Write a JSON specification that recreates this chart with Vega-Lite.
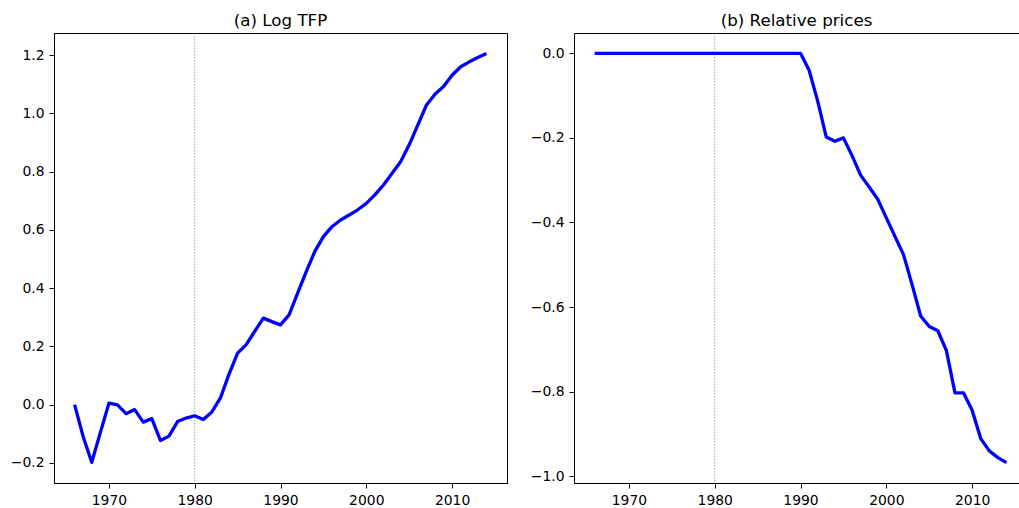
{
  "$schema": "https://vega.github.io/schema/vega-lite/v6.json",
  "background": "white",
  "padding": {"left": 9, "top": 12, "right": 0, "bottom": 0},
  "autosize": {"type": "pad"},
  "bounds": "flush",
  "spacing": 67,
  "config": {
    "font": "DejaVu Sans",
    "view": {"stroke": "black", "strokeWidth": 1},
    "axis": {
      "labelFont": "DejaVu Sans",
      "labelFontSize": 13.9,
      "labelColor": "black",
      "tickColor": "black",
      "tickSize": 5,
      "tickWidth": 1,
      "domainColor": "black",
      "domainWidth": 1,
      "grid": false,
      "labelPadding": 5,
      "title": null
    },
    "title": {
      "font": "DejaVu Sans",
      "fontSize": 16.7,
      "fontWeight": "normal",
      "color": "black",
      "anchor": "middle",
      "baseline": "alphabetic",
      "offset": 3
    }
  },
  "datasets": {
    "series": [
      {"year": 1966, "log_tfp": 0.0, "rel_price": 0.0},
      {"year": 1967, "log_tfp": -0.11, "rel_price": 0.0},
      {"year": 1968, "log_tfp": -0.198, "rel_price": 0.0},
      {"year": 1969, "log_tfp": -0.096, "rel_price": 0.0},
      {"year": 1970, "log_tfp": 0.005, "rel_price": 0.0},
      {"year": 1971, "log_tfp": -0.001, "rel_price": 0.0},
      {"year": 1972, "log_tfp": -0.031, "rel_price": 0.0},
      {"year": 1973, "log_tfp": -0.017, "rel_price": 0.0},
      {"year": 1974, "log_tfp": -0.06, "rel_price": 0.0},
      {"year": 1975, "log_tfp": -0.048, "rel_price": 0.0},
      {"year": 1976, "log_tfp": -0.123, "rel_price": 0.0},
      {"year": 1977, "log_tfp": -0.108, "rel_price": 0.0},
      {"year": 1978, "log_tfp": -0.058, "rel_price": 0.0},
      {"year": 1979, "log_tfp": -0.046, "rel_price": 0.0},
      {"year": 1980, "log_tfp": -0.038, "rel_price": 0.0},
      {"year": 1981, "log_tfp": -0.051, "rel_price": 0.0},
      {"year": 1982, "log_tfp": -0.025, "rel_price": 0.0},
      {"year": 1983, "log_tfp": 0.023, "rel_price": 0.0},
      {"year": 1984, "log_tfp": 0.105, "rel_price": 0.0},
      {"year": 1985, "log_tfp": 0.177, "rel_price": 0.0},
      {"year": 1986, "log_tfp": 0.206, "rel_price": 0.0},
      {"year": 1987, "log_tfp": 0.252, "rel_price": 0.0},
      {"year": 1988, "log_tfp": 0.297, "rel_price": 0.0},
      {"year": 1989, "log_tfp": 0.285, "rel_price": 0.0},
      {"year": 1990, "log_tfp": 0.274, "rel_price": 0.0},
      {"year": 1991, "log_tfp": 0.308, "rel_price": -0.04},
      {"year": 1992, "log_tfp": 0.383, "rel_price": -0.113},
      {"year": 1993, "log_tfp": 0.457, "rel_price": -0.198},
      {"year": 1994, "log_tfp": 0.526, "rel_price": -0.208},
      {"year": 1995, "log_tfp": 0.577, "rel_price": -0.2},
      {"year": 1996, "log_tfp": 0.611, "rel_price": -0.242},
      {"year": 1997, "log_tfp": 0.634, "rel_price": -0.288},
      {"year": 1998, "log_tfp": 0.651, "rel_price": -0.316},
      {"year": 1999, "log_tfp": 0.669, "rel_price": -0.345},
      {"year": 2000, "log_tfp": 0.691, "rel_price": -0.389},
      {"year": 2001, "log_tfp": 0.72, "rel_price": -0.433},
      {"year": 2002, "log_tfp": 0.754, "rel_price": -0.476},
      {"year": 2003, "log_tfp": 0.794, "rel_price": -0.547},
      {"year": 2004, "log_tfp": 0.834, "rel_price": -0.621},
      {"year": 2005, "log_tfp": 0.892, "rel_price": -0.646},
      {"year": 2006, "log_tfp": 0.96, "rel_price": -0.656},
      {"year": 2007, "log_tfp": 1.028, "rel_price": -0.703},
      {"year": 2008, "log_tfp": 1.066, "rel_price": -0.803},
      {"year": 2009, "log_tfp": 1.092, "rel_price": -0.803},
      {"year": 2010, "log_tfp": 1.131, "rel_price": -0.844},
      {"year": 2011, "log_tfp": 1.16, "rel_price": -0.911},
      {"year": 2012, "log_tfp": 1.177, "rel_price": -0.94},
      {"year": 2013, "log_tfp": 1.192, "rel_price": -0.956},
      {"year": 2014, "log_tfp": 1.206, "rel_price": -0.968}
    ],
    "events": [{"year": 1980}]
  },
  "hconcat": [
    {
      "title": {"text": "(a) Log TFP"},
      "width": 453,
      "height": 450,
      "layer": [
        {
          "data": {"name": "series"},
          "mark": {"type": "line", "color": "#0000ff", "strokeWidth": 3.3, "strokeJoin": "round", "strokeCap": "butt"},
          "encoding": {
            "x": {"field": "year", "type": "quantitative", "scale": {"domain": [1963.6, 2016.4], "nice": false, "zero": false}, "axis": {"values": [1970, 1980, 1990, 2000, 2010], "format": "d"}},
            "y": {"field": "log_tfp", "type": "quantitative", "scale": {"domain": [-0.269, 1.276], "nice": false, "zero": false}, "axis": {"values": [-0.2, 0.0, 0.2, 0.4, 0.6, 0.8, 1.0, 1.2], "format": ".1f"}}
          }
        },
        {
          "data": {"name": "events"},
          "mark": {"type": "rule", "color": "#1f77b4", "opacity": 0.6, "strokeWidth": 1, "strokeDash": [1.5, 1.5]},
          "encoding": {
            "x": {"field": "year", "type": "quantitative"}
          }
        }
      ]
    },
    {
      "title": {"text": "(b) Relative prices"},
      "width": 445,
      "height": 450,
      "view": {"stroke": null},
      "layer": [
        {
          "data": {"name": "series"},
          "mark": {"type": "line", "color": "#0000ff", "strokeWidth": 3.3, "strokeJoin": "round", "strokeCap": "butt"},
          "encoding": {
            "x": {"field": "year", "type": "quantitative", "scale": {"domain": [1963.6, 2015.46], "nice": false, "zero": false}, "axis": {"values": [1970, 1980, 1990, 2000, 2010], "format": "d", "orient": "bottom"}},
            "y": {"field": "rel_price", "type": "quantitative", "scale": {"domain": [-1.016, 0.048], "nice": false, "zero": false}, "axis": {"values": [-1.0, -0.8, -0.6, -0.4, -0.2, 0.0], "format": ".1f"}}
          }
        },
        {
          "data": {"name": "events"},
          "mark": {"type": "rule", "color": "#1f77b4", "opacity": 0.6, "strokeWidth": 1, "strokeDash": [1.5, 1.5]},
          "encoding": {
            "x": {"field": "year", "type": "quantitative", "axis": {"orient": "top", "labels": false, "ticks": false, "domain": true}}
          }
        }
      ],
      "resolve": {"axis": {"x": "independent"}}
    }
  ]
}
